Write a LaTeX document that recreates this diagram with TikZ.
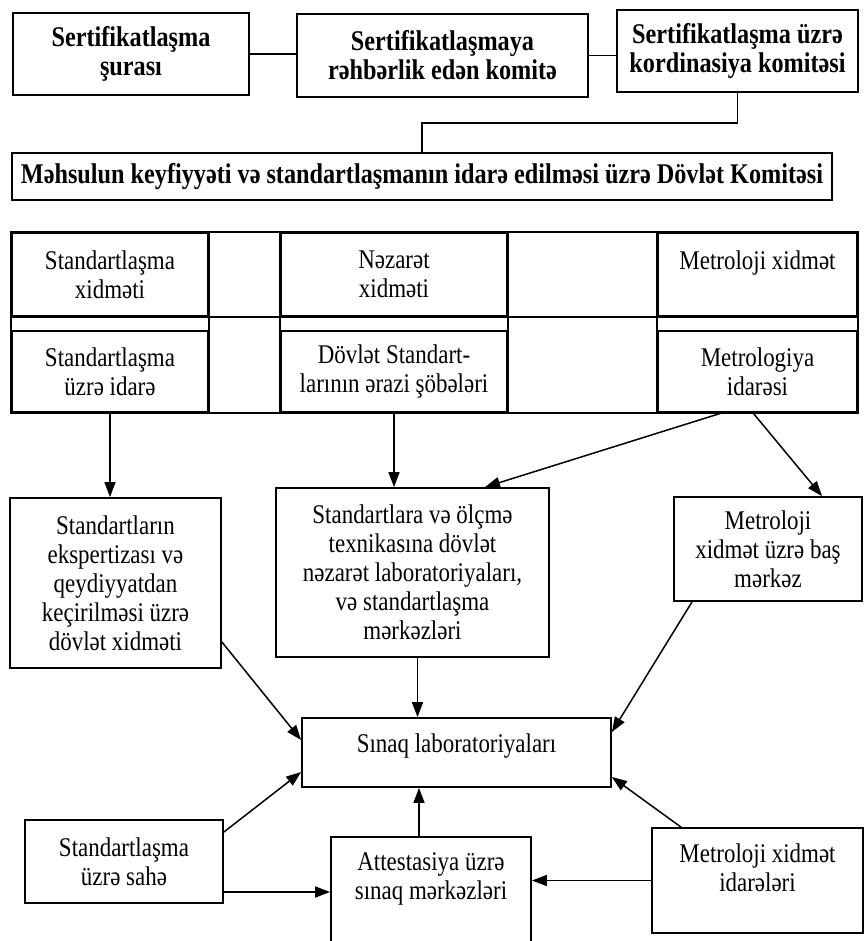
\documentclass[tikz,border=0pt]{standalone}
\usepackage{fontspec}
\setmainfont{Liberation Serif}[FakeStretch=0.85]
\usepackage{tikz}
\usetikzlibrary{arrows.meta, positioning, calc}

\begin{document}
\begin{tikzpicture}[x=1pt, y=-1pt,
    box/.style={rectangle, draw, line width=1.8pt, align=center, inner sep=0pt, font=\fontsize{27}{29}\selectfont},
    boldbox/.style={box, font=\fontsize{28.5}{29}\selectfont\bfseries},
    arrow/.style={-{Triangle[length=15pt, width=11pt]}, line width=1.5pt},
    link/.style={line width=1.8pt}
]
\path[use as bounding box, fill=white] (0,0) rectangle (865,941);

% Top row
\node[boldbox, minimum width=236pt, minimum height=82pt] (sovet) at (131,54) {Sertifikatlaşma\\şurası};
\node[boldbox, minimum width=291pt, minimum height=83pt] (rehber) at (442.5,55.5) {Sertifikatlaşmaya\\rəhbərlik edən komitə};
\node[boldbox, minimum width=241pt, minimum height=82pt] (koord) at (737.5,51) {Sertifikatlaşma üzrə\\kordinasiya komitəsi};
\node[boldbox, minimum width=820pt, minimum height=47pt] (komite) at (422,176.5) {Məhsulun keyfiyyəti və standartlaşmanın idarə edilməsi üzrə Dövlət Komitəsi};

\draw[link] (sovet.east) -- (sovet.east -| rehber.west);
\draw[link] (rehber.east) -- (rehber.east -| koord.west);
\draw[link] (koord.south) -- ++(0,30) -| (komite.north);

% Services table
\node[box, minimum width=196pt, minimum height=83pt] (st1) at (110,274.5) {Standartlaşma\\xidməti};
\node[box, minimum width=226pt, minimum height=83pt] (nz1) at (394,274.5) {Nəzarət\\xidməti};
\node[box, minimum width=199pt, minimum height=83pt] (mt1) at (757.5,274.5) {Metroloji xidmət\\\mbox{}};
\node[box, minimum width=196pt, minimum height=81pt] (st2) at (110,371.5) {Standartlaşma\\üzrə idarə};
\node[box, minimum width=226pt, minimum height=81pt] (nz2) at (394,371.5) {Dövlət Standart-\\larının ərazi şöbələri};
\node[box, minimum width=199pt, minimum height=81pt] (mt2) at (757.5,371.5) {Metrologiya\\idarəsi};

\draw[link] (st1.north west) rectangle (mt2.south east);
\draw[link] (st1.south west) -- (mt1.south east);
\foreach \up/\down in {st1/st2, nz1/nz2, mt1/mt2} {
    \draw[link] (\up.north west) -- (\down.south west);
    \draw[link] (\up.north east) -- (\down.south east);
}

% Middle level
\node[box, minimum width=211pt, minimum height=170pt] (expert) at (115.5,583) {Standartların\\ekspertizası və\\qeydiyyatdan\\keçirilməsi üzrə\\dövlət xidməti};
\node[box, minimum width=273pt, minimum height=169pt] (lab) at (412.5,572.5) {Standartlara və ölçmə\\texnikasına dövlət\\nəzarət laboratoriyaları,\\və standartlaşma\\mərkəzləri};
\node[box, minimum width=188pt, minimum height=104pt] (bas) at (768,549) {Metroloji\\xidmət üzrə baş\\mərkəz};

\draw[arrow] (st2.south) -- (st2.south |- expert.north);
\draw[arrow] (nz2.south) -- (nz2.south |- lab.north);
\draw[arrow] ([xshift=-35.5pt]mt2.south) -- ([xshift=72.5pt]lab.north);
\draw[arrow] ([xshift=-4.5pt]mt2.south) -- ([xshift=54pt]bas.north);

% Test laboratories
\node[box, minimum width=309pt, minimum height=69pt, text depth=19pt] (sinaq) at (456.5,752.5) {Sınaq laboratoriyaları};

\draw[arrow] ([xshift=5pt]lab.south) -- ([xshift=5pt]lab.south |- sinaq.north);
\draw[arrow] ([yshift=-59pt]expert.east) -- ([yshift=12.5pt]sinaq.west);
\draw[arrow] ([xshift=-76pt]bas.south) -- ([yshift=20.5pt]sinaq.east);

% Bottom row
\node[box, minimum width=198pt, minimum height=83pt] (sahe) at (124,861.5) {Standartlaşma\\üzrə sahə};
\node[box, minimum width=200pt, minimum height=108pt, text depth=30pt] (att) at (431,891) {Attestasiya üzrə\\sınaq mərkəzləri};
\node[box, minimum width=211pt, minimum height=105pt, text depth=26pt] (metid) at (757.5,880.5) {Metroloji xidmət\\idarələri};

\draw[arrow] ([yshift=29.5pt]sahe.east) -- ([yshift=-19.5pt]sinaq.west);
\draw[arrow] ([xshift=-12pt]att.north) -- ([xshift=-12pt]att.north |- sinaq.south);
\draw[arrow] ([yshift=-30.5pt]sahe.east) -- ([yshift=-30.5pt]sahe.east -| att.west);
\draw[arrow] (metid.west) -- (metid.west -| att.east);
\draw[arrow] ([xshift=-76.5pt]metid.north) -- ([yshift=-24.5pt]sinaq.east);

\end{tikzpicture}
\end{document}
